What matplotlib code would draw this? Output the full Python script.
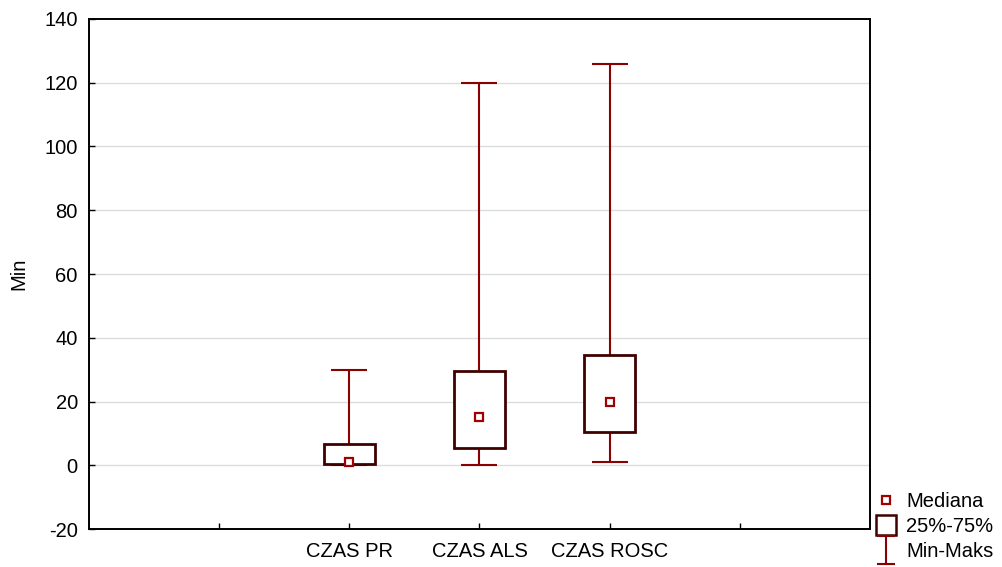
import numpy as np
import matplotlib.pyplot as plt
from matplotlib.lines import Line2D
from matplotlib.path import Path

categories = ['CZAS PR', 'CZAS ALS', 'CZAS ROSC']
medians = [1, 15, 20]
q25 = [0.3, 5.3, 10.3]
q75 = [6.8, 29.7, 34.7]
mins = [0, 0, 1]
maxs = [30, 120, 126]

whisker_col = '#8b0000'
box_col = '#3f0000'
med_col = '#a00000'

plt.rcParams['font.family'] = ['Liberation Sans', 'DejaVu Sans']
plt.rcParams['axes.unicode_minus'] = False

fig = plt.figure(figsize=(10.02, 5.67), dpi=100)
ax = fig.add_axes([0.0888, 0.067, 0.7794, 0.8995])

pos = np.arange(len(categories)) + 2
lo = np.array(medians) - np.array(mins)
hi = np.array(maxs) - np.array(medians)

# whiskers min-max
ax.errorbar(pos, medians, yerr=[lo, hi], fmt='none', ecolor=whisker_col,
            elinewidth=1.5, capsize=13, capthick=1.5, zorder=2)

# boxes 25-75
bw = 0.39
for p, a, b in zip(pos, q25, q75):
    ax.add_patch(plt.Rectangle((p - bw/2, a), bw, b - a, facecolor='white',
                               edgecolor=box_col, linewidth=2, zorder=3))

ax.plot(pos, medians, 's', ms=6, mfc='white', mec=med_col, mew=1.6,
        zorder=4, ls='none')

ax.set_xlim(0, 6)
ax.set_ylim(-20, 140)
ax.set_yticks(range(-20, 141, 20))
ax.set_xticks([1, 2, 3, 4, 5])
ax.set_xticklabels([''] + categories + [''])
ax.tick_params(direction='in', length=4, width=1, labelsize=14.5, colors='black')
ax.tick_params(axis='y', pad=8)
ax.tick_params(axis='x', pad=9)
for y in range(0, 121, 20):
    ax.axhline(y, color='#dddddd', lw=1, zorder=0)
for s in ax.spines.values():
    s.set_linewidth(1.4)
ax.set_ylabel('Min', fontsize=14.5)
ax.yaxis.set_label_coords(-0.078, 0.5)

# I-shaped symbol for min-max legend entry
ibar = Path([(-0.65, 1), (0.65, 1), (0, 1), (0, -1), (-0.65, -1), (0.65, -1)],
            [Path.MOVETO, Path.LINETO, Path.MOVETO, Path.LINETO,
             Path.MOVETO, Path.LINETO])

h_med = Line2D([], [], marker='s', ms=6, mfc='white', mec=med_col, mew=1.6, ls='none')
h_box = Line2D([], [], marker='s', ms=15, mfc='white', mec=box_col, mew=1.8, ls='none')
h_rng = Line2D([], [], marker=ibar, ms=20, mfc='none', mec=whisker_col, mew=1.5, ls='none')
ax.legend([h_med, h_box, h_rng], ['Mediana', '25%-75%', 'Min-Maks'],
          loc='upper left', bbox_to_anchor=(0.876, 0.132),
          bbox_transform=fig.transFigure, frameon=False, fontsize=14.5,
          handlelength=0.8, handletextpad=0.6, labelspacing=0.3,
          borderpad=0, borderaxespad=0)

fig.savefig('out.png', dpi=100)
